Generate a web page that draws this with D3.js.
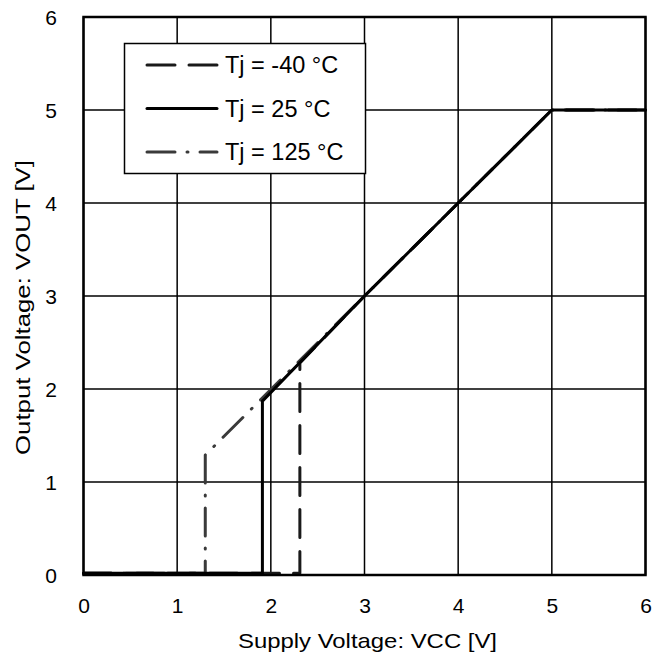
<!DOCTYPE html>
<html><head><meta charset="utf-8">
<script src="https://cdn.jsdelivr.net/npm/d3@7"></script>
<style>body{margin:0;background:#fff}svg{display:block}text{font-family:"Liberation Sans",Arial,sans-serif;fill:#000}</style>
</head><body><svg id="c" width="669" height="657"></svg>
<script>
const xTicks = [0,1,2,3,4,5,6];
const yTicks = [0,1,2,3,4,5,6];
const seriesNames = ["Tj = -40 °C","Tj = 25 °C","Tj = 125 °C"];
const vccM40 = [0, 2.31, 2.31, 3.0, 4.0, 4.9, 4.97, 5.0, 6.0];
const voutM40 = [0.02, 0.02, 2.28, 3.0, 4.0, 4.9, 4.97, 5.0, 5.0];
const vcc25 = [0, 1.91, 1.91, 3.0, 4.0, 4.9, 4.97, 5.0, 6.0];
const vout25 = [0.02, 0.02, 1.87, 3.0, 4.0, 4.9, 4.97, 5.0, 5.0];
const vcc125 = [0, 1.30, 1.30, 3.0, 4.0, 4.9, 4.97, 5.0, 6.0];
const vout125 = [0.02, 0.02, 1.29, 3.0, 4.0, 4.9, 4.97, 5.0, 5.0];

const FONT="'Liberation Sans',Arial,sans-serif";
const svg = d3.select("#c");
const L=83.5, R=645.5, T=17, B=575;
const x = d3.scaleLinear().domain([0,6]).range([L,R]);
const y = d3.scaleLinear().domain([0,6]).range([B,T]);

// grid
const g = svg.append("g");
g.selectAll(".gx").data(xTicks).join("line").attr("x1",d=>x(d)).attr("x2",d=>x(d)).attr("y1",T).attr("y2",B).attr("stroke","#000").attr("stroke-width",1.5);
g.selectAll(".gy").data(yTicks).join("line").attr("y1",d=>y(d)).attr("y2",d=>y(d)).attr("x1",L).attr("x2",R).attr("stroke","#000").attr("stroke-width",1.5);

const series = [
  {name:seriesNames[0], xs:vccM40, ys:voutM40, color:"#1a1a1a", dash:"28,14"},
  {name:seriesNames[1], xs:vcc25, ys:vout25, color:"#000", dash:null},
  {name:seriesNames[2], xs:vcc125, ys:vout125, color:"#3a3a3a", dash:"28,12,1,12"}
];
const line = d3.line().x(d=>x(d[0])).y(d=>y(d[1]));
[2,0,1].forEach(i=>{
  const s=series[i];
  svg.append("path").attr("d",line(s.xs.map((v,j)=>[v,s.ys[j]])))
    .attr("fill","none").attr("stroke",s.color).attr("stroke-width",3)
    .attr("stroke-linecap","round").attr("stroke-linejoin","round")
    .attr("stroke-dasharray",s.dash);
});

// frame
svg.append("rect").attr("x",L).attr("y",T).attr("width",R-L).attr("height",B-T).attr("fill","none").attr("stroke","#000").attr("stroke-width",2.5);

// tick labels
svg.append("g").attr("transform",`translate(0,${B})`)
  .call(d3.axisBottom(x).tickValues(xTicks).tickSize(0).tickPadding(0).tickFormat(d3.format("d")))
  .call(a=>{a.select(".domain").remove();a.selectAll("text").attr("y",38).attr("dy",0).attr("font-size",21).style("font-family",FONT);});
svg.append("g").attr("transform",`translate(${L},0)`)
  .call(d3.axisLeft(y).tickValues(yTicks).tickSize(0).tickPadding(0).tickFormat(d3.format("d")))
  .call(a=>{a.select(".domain").remove();a.selectAll("text").attr("x",-26.5).attr("dy","0.35em").attr("font-size",21).style("font-family",FONT);});

svg.append("text").attr("x",367.5).attr("y",648).attr("text-anchor","middle").attr("font-size",21)
  .attr("textLength",259).attr("lengthAdjust","spacingAndGlyphs").text("Supply Voltage: VCC [V]");
svg.append("text").attr("transform",`translate(30,307.5) rotate(-90)`).attr("text-anchor","middle").attr("font-size",21)
  .attr("textLength",295).attr("lengthAdjust","spacingAndGlyphs").text("Output Voltage: VOUT [V]");

// legend
const lg = svg.append("g");
lg.append("rect").attr("x",124.5).attr("y",43.5).attr("width",241).attr("height",130).attr("fill","#fff").attr("stroke","#000").attr("stroke-width",1.5);
series.forEach((s,i)=>{
  const yy = 65 + i*43.5;
  lg.append("line").attr("x1",147).attr("x2",217).attr("y1",yy).attr("y2",yy)
    .attr("stroke",s.color).attr("stroke-width",3).attr("stroke-linecap","round").attr("stroke-dasharray",s.dash);
  lg.append("text").attr("x",225).attr("y",yy).attr("dy","0.35em").attr("font-size",23.5).text(s.name);
});
</script></body></html>
